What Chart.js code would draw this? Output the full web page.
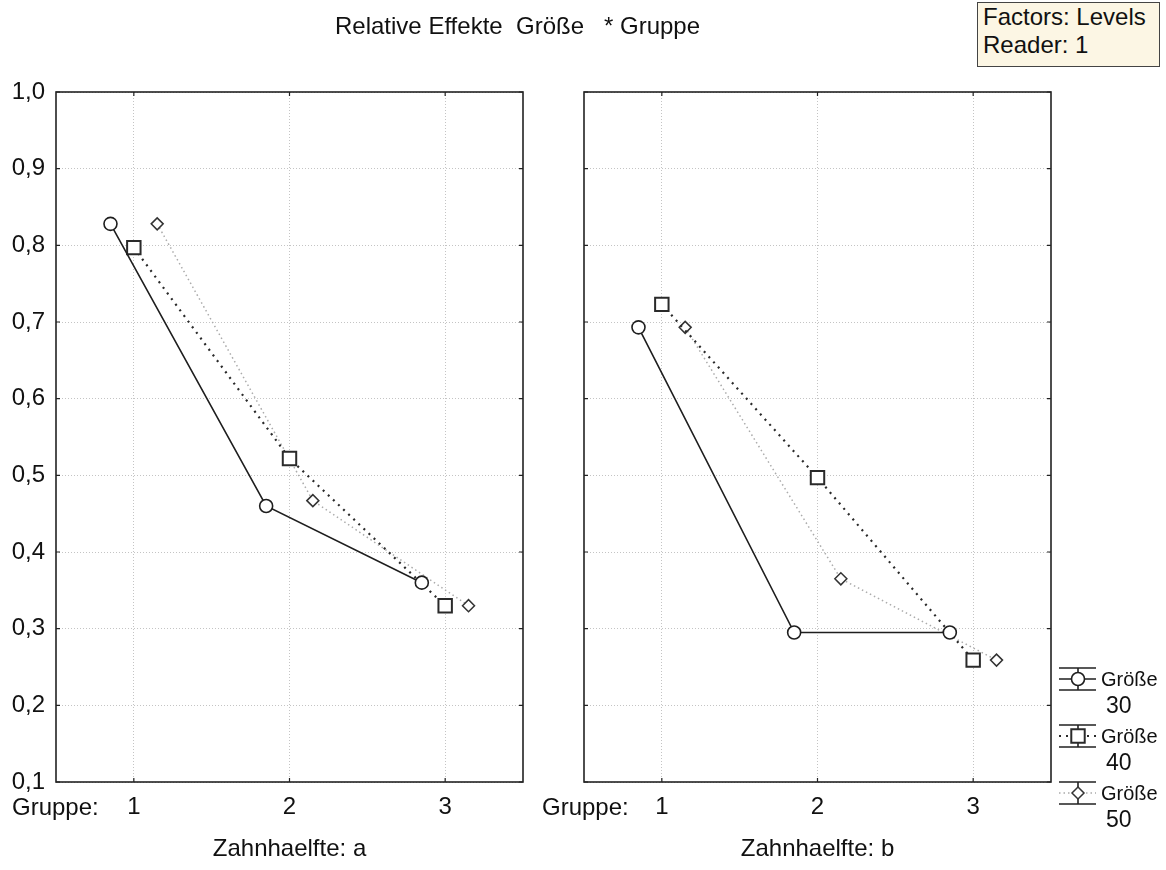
<!DOCTYPE html>
<html>
<head>
<meta charset="utf-8">
<script src="https://cdn.jsdelivr.net/npm/chart.js@4.4.0/dist/chart.umd.min.js"></script>
<style>
body { margin: 0; background: #fff; font-family: "Liberation Sans", Arial, sans-serif; color: #111; }
#wrap { position: relative; width: 1166px; height: 870px; overflow: hidden; }
#left { position: absolute; left: 0; top: 0; }
#right { position: absolute; left: 530px; top: 0; }
#title { position: absolute; left: 335px; top: 12px; font-size: 24px; white-space: pre; }
#info { position: absolute; left: 977px; top: 2px; width: 176px; height: 63px; padding-left: 5px;
        background: #fcf6e4; border: 1px solid #444; font-size: 24px; line-height: 28px; }
</style>
</head>
<body>
<div id="wrap">
  <canvas id="left" width="540" height="870"></canvas>
  <canvas id="right" width="636" height="870"></canvas>
  <div id="title">Relative Effekte  Größe   * Gruppe</div>
  <div id="info">Factors: Levels<br>Reader: 1</div>
</div>
<script>
// data
const groups = [1, 2, 3];
const yTicks = [0.1, 0.2, 0.3, 0.4, 0.5, 0.6, 0.7, 0.8, 0.9, 1.0];
const seriesNames = ['Größe', 'Größe', 'Größe'];
const seriesLevels = ['30', '40', '50'];
const panelTitles = ['Zahnhaelfte: a', 'Zahnhaelfte: b'];

const halfA_30 = [0.828, 0.460, 0.360];
const halfA_40 = [0.797, 0.522, 0.330];
const halfA_50 = [0.828, 0.467, 0.330];

const halfB_30 = [0.693, 0.295, 0.295];
const halfB_40 = [0.723, 0.497, 0.259];
const halfB_50 = [0.693, 0.365, 0.259];

// look of each series (circle / square / diamond)
const looks = [
  { color: '#1e1e1e', width: 1.6, dash: [], point: 'circle', r: 6.5, pw: 1.6 },
  { color: '#2a2a2a', width: 2.2, dash: [2, 5], point: 'rect', r: 9.5, pw: 2 },
  { color: '#ababab', width: 1.5, dash: [1.5, 3], point: 'rectRot', r: 6, pw: 1.5 }
];
const shift = [-0.15, 0, 0.15];
const FONT = '"Liberation Sans", Arial, sans-serif';

Chart.defaults.font.family = FONT;
Chart.defaults.color = '#111';

const frame = {
  id: 'frame',
  beforeDatasetsDraw(chart) {
    const { ctx, chartArea: a, scales } = chart;
    ctx.save();
    ctx.strokeStyle = '#222';
    ctx.lineWidth = 1.6;
    ctx.strokeRect(a.left, a.top, a.right - a.left, a.bottom - a.top);
    ctx.lineWidth = 1.2;
    ctx.beginPath();
    scales.y.ticks.forEach(t => {
      const y = scales.y.getPixelForValue(t.value);
      ctx.moveTo(a.left, y); ctx.lineTo(a.left + 4, y);
      ctx.moveTo(a.right, y); ctx.lineTo(a.right - 4, y);
    });
    scales.x.ticks.forEach(t => {
      const x = scales.x.getPixelForValue(t.value);
      ctx.moveTo(x, a.top); ctx.lineTo(x, a.top + 4);
      ctx.moveTo(x, a.bottom); ctx.lineTo(x, a.bottom - 4);
    });
    ctx.stroke();
    ctx.restore();
  },
  afterDraw(chart) {
    const ctx = chart.ctx;
    ctx.save();
    ctx.font = '24px ' + FONT;
    ctx.fillStyle = '#111';
    ctx.textBaseline = 'middle';
    ctx.fillText('Gruppe:', 12, 808);
    ctx.restore();
  }
};

function marker(ctx, look, x, y) {
  ctx.save();
  ctx.setLineDash([]);
  ctx.fillStyle = '#fff';
  ctx.strokeStyle = look.point === 'rectRot' ? '#333' : look.color;
  ctx.lineWidth = look.pw;
  ctx.beginPath();
  if (look.point === 'circle') {
    ctx.arc(x, y, look.r, 0, Math.PI * 2);
  } else if (look.point === 'rect') {
    const s = look.r * Math.SQRT1_2;
    ctx.rect(x - s, y - s, 2 * s, 2 * s);
  } else {
    ctx.moveTo(x, y - look.r); ctx.lineTo(x + look.r, y);
    ctx.lineTo(x, y + look.r); ctx.lineTo(x - look.r, y); ctx.closePath();
  }
  ctx.fill();
  ctx.stroke();
  ctx.restore();
}

const legendBox = {
  id: 'legendBox',
  afterDraw(chart) {
    const ctx = chart.ctx;
    const x0 = 529, x1 = 566, cx = 548;
    const rows = [679, 736, 793];
    ctx.save();
    rows.forEach((y, i) => {
      const look = looks[i];
      ctx.strokeStyle = '#222';
      ctx.lineWidth = 1.6;
      ctx.setLineDash([]);
      ctx.beginPath();
      ctx.moveTo(x0, y - 11); ctx.lineTo(x1, y - 11);
      ctx.moveTo(x0, y + 11); ctx.lineTo(x1, y + 11);
      ctx.moveTo(cx, y - 11); ctx.lineTo(cx, y + 11);
      ctx.stroke();
      ctx.strokeStyle = look.color;
      ctx.lineWidth = look.width;
      ctx.setLineDash(look.dash);
      ctx.beginPath();
      ctx.moveTo(x0, y); ctx.lineTo(x1, y);
      ctx.stroke();
      marker(ctx, look, cx, y);
      ctx.setLineDash([]);
      ctx.fillStyle = '#111';
      ctx.textBaseline = 'middle';
      ctx.font = '20px ' + FONT;
      ctx.fillText(seriesNames[i], 571, y + 1);
      ctx.font = '23px ' + FONT;
      ctx.fillText(seriesLevels[i], 576, y + 28);
    });
    ctx.restore();
  }
};

function makePanel(id, sets, title, showY, padRight, yWidth, extra) {
  const datasets = sets.map((vals, k) => ({
    label: seriesNames[k] + ' ' + seriesLevels[k],
    data: groups.map((g, i) => ({ x: g + shift[k], y: vals[i] })),
    borderColor: looks[k].color,
    borderWidth: looks[k].width,
    borderDash: looks[k].dash,
    pointStyle: looks[k].point,
    pointRadius: looks[k].r,
    pointBorderWidth: looks[k].pw,
    pointBorderColor: k === 2 ? '#333' : looks[k].color,
    pointBackgroundColor: '#fff',
    tension: 0,
    fill: false
  }));
  return new Chart(document.getElementById(id), {
    type: 'line',
    data: { datasets },
    plugins: [frame].concat(extra),
    options: {
      responsive: false,
      animation: false,
      layout: { padding: { top: 92, right: padRight, bottom: 0, left: 0 } },
      plugins: { legend: { display: false }, tooltip: { enabled: false } },
      scales: {
        x: {
          type: 'linear',
          min: 0.5,
          max: 3.5,
          afterBuildTicks: s => { s.ticks = groups.map(v => ({ value: v })); },
          afterFit: s => { s.height = 88; },
          ticks: { font: { size: 24 }, padding: 11, color: '#111', callback: v => String(v) },
          grid: { color: '#c4c4c4', lineWidth: 1, drawTicks: false },
          border: { display: false, dash: [1, 2] },
          title: { display: true, text: title, font: { size: 24 }, color: '#111', padding: { top: 0, bottom: 6 } }
        },
        y: {
          min: 0.1,
          max: 1.0,
          afterBuildTicks: s => { s.ticks = yTicks.map(v => ({ value: v })); },
          afterFit: s => { s.width = yWidth; },
          ticks: {
            display: showY,
            font: { size: 24 },
            padding: 11,
            color: '#111',
            callback: v => v.toFixed(1).replace('.', ',')
          },
          grid: { color: '#c4c4c4', lineWidth: 1, drawTicks: false },
          border: { display: false, dash: [1, 2] }
        }
      }
    }
  });
}

makePanel('left', [halfA_30, halfA_40, halfA_50], panelTitles[0], true, 17, 56, []);
makePanel('right', [halfB_30, halfB_40, halfB_50], panelTitles[1], false, 115, 54, [legendBox]);
</script>
</body>
</html>
